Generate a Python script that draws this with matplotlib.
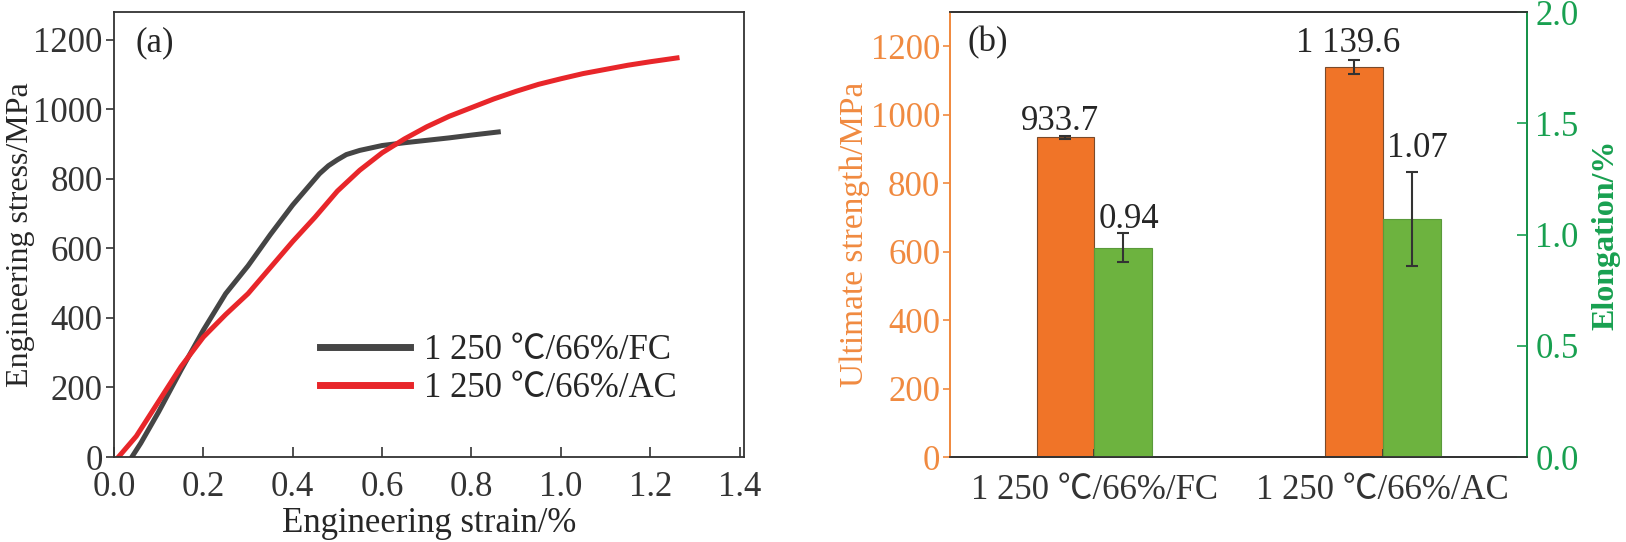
import matplotlib
matplotlib.use("Agg")
import matplotlib.pyplot as plt
import numpy as np

plt.rcParams['font.family'] = ['Liberation Serif', 'Noto Sans CJK SC']
plt.rcParams['font.size'] = 25
plt.rcParams['text.color'] = '#262626'
plt.rcParams['axes.labelcolor'] = '#262626'

# (a) stress-strain curves
fc_strain = [0.04, 0.06, 0.10, 0.15, 0.20, 0.25, 0.30, 0.35, 0.40, 0.43, 0.46,
             0.48, 0.50, 0.52, 0.55, 0.60, 0.65, 0.70, 0.75, 0.80, 0.86]
fc_stress = [0, 40, 130, 250, 365, 470, 550, 640, 725, 770, 815,
             838, 855, 870, 882, 896, 904, 911, 918, 926, 935]
ac_strain = [0.01, 0.05, 0.10, 0.15, 0.20, 0.25, 0.30, 0.35, 0.40, 0.45, 0.50,
             0.55, 0.60, 0.65, 0.70, 0.75, 0.80, 0.85, 0.90, 0.95, 1.00, 1.05,
             1.10, 1.15, 1.20, 1.26]
ac_stress = [0, 60, 160, 260, 345, 410, 470, 545, 620, 690, 765,
             825, 875, 915, 950, 980, 1005, 1030, 1052, 1072, 1088, 1103,
             1115, 1127, 1137, 1148]
curve_labels = ['1 250 \u2103/66%/FC', '1 250 \u2103/66%/AC']

# (b) bars
groups = ['1 250 \u2103/66%/FC', '1 250 \u2103/66%/AC']
uts = [933.7, 1139.6]
uts_err = [4, 20]
uts_text = ['933.7', '1 139.6']
elong = [0.94, 1.07]
elong_err = [0.065, 0.21]
elong_text = ['0.94', '1.07']
uts_gap = [4, 6]      # points above error cap
elong_gap = [4, 11]

orange = '#f07428'
orange_ax = '#f08a40'
green = '#6db33f'
green_ax = '#18a050'
dark = '#333333'

fig = plt.figure(figsize=(16.26, 5.42), dpi=100)
ax1 = fig.add_axes([0.0701, 0.1568, 0.3875, 0.821])
ax2 = fig.add_axes([0.5843, 0.1568, 0.3549, 0.821])

# ---- panel (a)
ax1.plot(fc_strain, fc_stress, color='#454545', lw=3.6, label=curve_labels[0])
ax1.plot(ac_strain, ac_stress, color='#e8262a', lw=3.6, label=curve_labels[1])
ax1.set_xlim(0, 1.41)
ax1.set_ylim(0, 1280)
ax1.set_xticks(np.arange(0, 1.41, 0.2))
ax1.set_xticklabels(['%.1f' % v for v in np.arange(0, 1.41, 0.2)])
ax1.set_yticks(range(0, 1201, 200))
ax1.tick_params(axis='x', direction='in', length=7, width=1.2, pad=10, colors=dark)
ax1.tick_params(axis='y', direction='out', length=6, width=1.2, pad=2, colors=dark)
ax1.set_xlabel('Engineering strain/%', labelpad=2)
ax1.set_ylabel('Engineering stress/MPa', fontsize=23)
ax1.yaxis.set_label_coords(-0.125, 0.5)
for s in ax1.spines.values():
    s.set_color(dark)
    s.set_linewidth(1.3)
leg = ax1.legend(loc='lower left', bbox_to_anchor=(0.305, 0.085), frameon=False,
                 handlelength=2.6, handletextpad=0.4, labelspacing=0.15,
                 borderaxespad=0)
for ln in leg.get_lines():
    ln.set_linewidth(5)
ax1.text(0.034, 0.93, '(a)', transform=ax1.transAxes, va='center', ha='left')

# ---- panel (b)
x = np.arange(len(groups))
w = 0.2
ax2.bar(x - w / 2, uts, w, color=orange, edgecolor='#7a4a2a', linewidth=0.8,
        yerr=uts_err, ecolor=dark, capsize=4, error_kw={'elinewidth': 1.5, 'capthick': 1.5})
ax2.set_xlim(-0.5, 1.5)
ax2.set_ylim(0, 1300)
ax2.set_yticks(range(0, 1201, 200))
ax2.set_xticks(x)
ax2.set_xticklabels(groups)
ax2.tick_params(axis='x', direction='in', length=6, width=1.2, pad=12, colors=dark)
ax2.tick_params(axis='y', direction='out', length=5, width=1.2, pad=2,
                colors=orange_ax, labelcolor=orange_ax)
ax2.set_ylabel('Ultimate strength/MPa', color=orange_ax, fontsize=24)
ax2.yaxis.set_label_coords(-0.138, 0.5)
ax2.spines['left'].set_color(orange_ax)
ax2.spines['bottom'].set_color(dark)
ax2.spines['top'].set_color(dark)
for s in ax2.spines.values():
    s.set_linewidth(1.3)
for xi, v, e, t, g in zip(x, uts, uts_err, uts_text, uts_gap):
    ax2.annotate(t, (xi - w / 2, v + e), xytext=(-4, g), textcoords='offset points',
                 ha='center', va='baseline')
ax2.text(0.03, 0.93, '(b)', transform=ax2.transAxes, va='center', ha='left')

ax3 = ax2.twinx()
ax3.bar(x + w / 2, elong, w, color=green, edgecolor='#5a9a3a', linewidth=0.8,
        yerr=elong_err, ecolor=dark, capsize=4, error_kw={'elinewidth': 1.5, 'capthick': 1.5})
ax3.set_ylim(0, 2.0)
ax3.set_yticks(np.arange(0, 2.01, 0.5))
ax3.set_yticklabels(['%.1f' % v for v in np.arange(0, 2.01, 0.5)])
ax3.tick_params(axis='y', direction='in', length=7, width=1.2, pad=6,
                colors=green_ax, labelcolor=green_ax)
ax3.set_ylabel('Elongation/%', color=green_ax, fontweight='bold', fontsize=23)
ax3.yaxis.set_label_coords(1.112, 0.5)
ax3.spines['right'].set_color(green_ax)
ax3.spines['left'].set_color(orange_ax)
ax3.spines['top'].set_color(dark)
ax3.spines['bottom'].set_color(dark)
for s in ax3.spines.values():
    s.set_linewidth(1.3)
for xi, v, e, t, g in zip(x, elong, elong_err, elong_text, elong_gap):
    ax3.annotate(t, (xi + w / 2, v + e), xytext=(4, g), textcoords='offset points',
                 ha='center', va='baseline')

fig.savefig('out.png', dpi=100)
